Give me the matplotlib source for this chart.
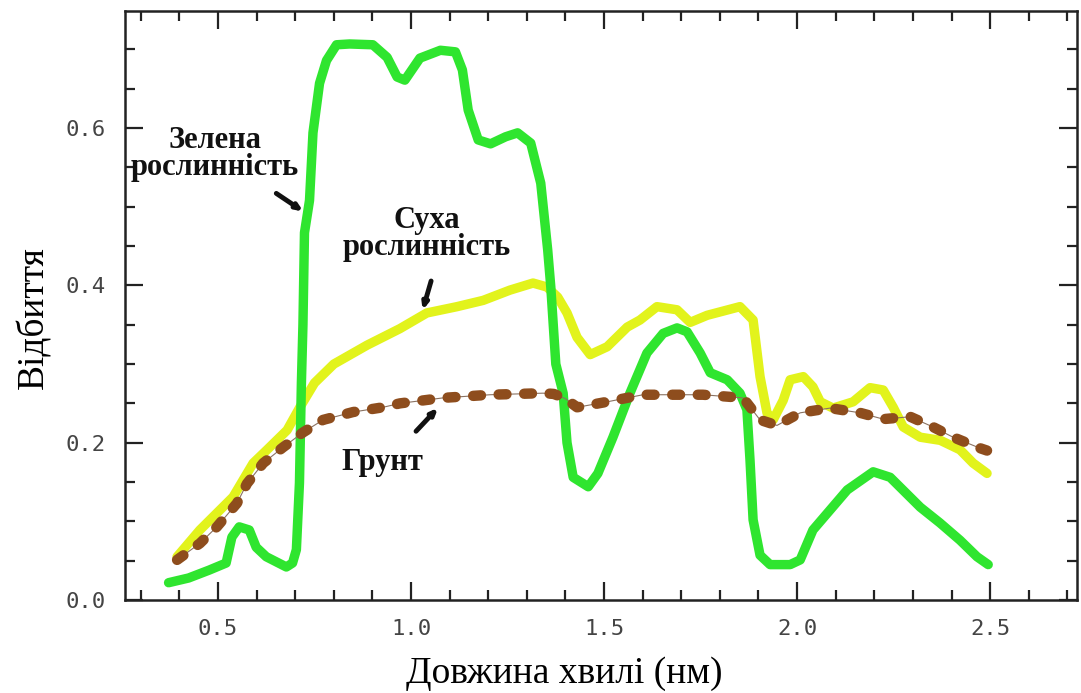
import matplotlib
matplotlib.use("Agg")
import matplotlib.pyplot as plt
from matplotlib.ticker import MultipleLocator, FormatStrFormatter

# wavelength / reflectance
green_x = [0.372, 0.424, 0.477, 0.521, 0.536, 0.555, 0.581, 0.599, 0.625, 0.677,
           0.693, 0.703, 0.711, 0.716, 0.720, 0.724, 0.737, 0.746, 0.763, 0.781,
           0.807, 0.841, 0.901, 0.938, 0.964, 0.984, 1.023, 1.076, 1.115, 1.133,
           1.148, 1.174, 1.206, 1.245, 1.276, 1.310, 1.336, 1.354, 1.362, 1.375,
           1.394, 1.404, 1.420, 1.459, 1.484, 1.523, 1.567, 1.611, 1.653, 1.689,
           1.715, 1.749, 1.775, 1.819, 1.852, 1.870, 1.878, 1.886, 1.904, 1.930,
           1.982, 2.008, 2.041, 2.130, 2.197, 2.241, 2.319, 2.370, 2.422, 2.466,
           2.495]
green_y = [0.022, 0.028, 0.038, 0.047, 0.080, 0.093, 0.089, 0.067, 0.055, 0.042,
           0.047, 0.064, 0.149, 0.276, 0.350, 0.467, 0.508, 0.594, 0.657, 0.686,
           0.706, 0.707, 0.706, 0.690, 0.665, 0.661, 0.689, 0.699, 0.697, 0.674,
           0.623, 0.585, 0.580, 0.589, 0.594, 0.581, 0.530, 0.445, 0.398, 0.300,
           0.263, 0.200, 0.156, 0.144, 0.161, 0.207, 0.263, 0.314, 0.339, 0.346,
           0.341, 0.314, 0.289, 0.280, 0.263, 0.242, 0.178, 0.102, 0.057, 0.045,
           0.045, 0.051, 0.089, 0.140, 0.163, 0.156, 0.118, 0.098, 0.076, 0.055,
           0.045]

dry_x = [0.394, 0.453, 0.539, 0.591, 0.627, 0.679, 0.712, 0.750, 0.800, 0.886,
         0.971, 1.041, 1.119, 1.187, 1.256, 1.316, 1.352, 1.380, 1.404, 1.430,
         1.464, 1.508, 1.560, 1.593, 1.637, 1.689, 1.723, 1.767, 1.852, 1.886,
         1.904, 1.922, 1.938, 1.964, 1.982, 2.016, 2.041, 2.060, 2.093, 2.145,
         2.189, 2.223, 2.249, 2.275, 2.319, 2.371, 2.422, 2.456, 2.492]
dry_y = [0.055, 0.089, 0.131, 0.174, 0.191, 0.216, 0.245, 0.276, 0.300, 0.324,
         0.345, 0.365, 0.373, 0.381, 0.394, 0.403, 0.398, 0.385, 0.365, 0.334,
         0.312, 0.322, 0.347, 0.356, 0.373, 0.369, 0.353, 0.362, 0.373, 0.356,
         0.284, 0.238, 0.229, 0.254, 0.280, 0.284, 0.271, 0.252, 0.244, 0.252,
         0.270, 0.267, 0.245, 0.220, 0.207, 0.203, 0.191, 0.174, 0.161]

soil_x = [0.394, 0.453, 0.497, 0.549, 0.575, 0.617, 0.668, 0.720, 0.772, 0.850,
          0.927, 0.971, 1.083, 1.205, 1.342, 1.370, 1.400, 1.430, 1.508, 1.601,
          1.756, 1.860, 1.904, 1.948, 2.008, 2.085, 2.163, 2.223, 2.293, 2.352,
          2.404, 2.474, 2.492]
soil_y = [0.051, 0.072, 0.093, 0.123, 0.148, 0.174, 0.194, 0.213, 0.229, 0.239,
          0.245, 0.250, 0.257, 0.261, 0.263, 0.262, 0.256, 0.245, 0.252, 0.261,
          0.261, 0.257, 0.229, 0.222, 0.238, 0.244, 0.238, 0.230, 0.233, 0.220,
          0.207, 0.193, 0.190]

fig = plt.figure(figsize=(10.81, 6.93), dpi=100)
ax = fig.add_axes([0.1156, 0.1342, 0.8807, 0.8500])

ax.plot(dry_x, dry_y, color="#e2f31c", lw=6.8, solid_joinstyle="round", solid_capstyle="round", zorder=2)
ax.plot(green_x, green_y, color="#2fe52f", lw=6.8, solid_joinstyle="round", solid_capstyle="round", zorder=3)
# soil: thin line + fat rounded dashes
ax.plot(soil_x, soil_y, color="#8a7262", lw=0.8, zorder=4)
ax.plot(soil_x, soil_y, color="#8e4d1d", lw=7.5, dashes=(0.75, 1.7),
        dash_capstyle="round", zorder=5)

ax.set_xlim(0.259, 2.725)
ax.set_ylim(0, 0.749)

ax.xaxis.set_major_locator(MultipleLocator(0.5))
ax.xaxis.set_minor_locator(MultipleLocator(0.1))
ax.yaxis.set_major_locator(MultipleLocator(0.2))
ax.yaxis.set_minor_locator(MultipleLocator(0.05))
ax.xaxis.set_major_formatter(FormatStrFormatter("%.1f"))
ax.yaxis.set_major_formatter(FormatStrFormatter("%.1f"))

ax.tick_params(which="both", direction="in", top=True, right=True, color="#222", width=1.6)
ax.tick_params(which="major", length=13, labelsize=16, labelcolor="#444", pad=14)
ax.tick_params(which="minor", length=7)
for lbl in ax.get_xticklabels() + ax.get_yticklabels():
    lbl.set_family("DejaVu Sans Mono")

for s in ax.spines.values():
    s.set_linewidth(1.8)
    s.set_color("#222")

ax.set_xlabel("Довжина хвилі (нм)", family="Liberation Serif", fontsize=27)
ax.set_ylabel("Відбиття", family="Liberation Serif", fontsize=27)
ax.xaxis.set_label_coords(0.461, -0.095)
ax.yaxis.set_label_coords(-0.077, 0.48)

note = dict(family="Liberation Serif", fontsize=22, fontweight="bold", ha="center",
            va="center", linespacing=0.9, color="#111")
ax.text(0.492, 0.567, "Зелена\nрослинність", **note)
ax.text(1.041, 0.465, "Суха\nрослинність", **note)
ax.text(0.925, 0.175, "Грунт", **note)

arrow = dict(arrowstyle="-|>,head_length=0.35,head_width=0.15", color="#111", lw=3.5)
ax.annotate("", xy=(0.727, 0.492), xytext=(0.645, 0.519), arrowprops=arrow)
ax.annotate("", xy=(1.028, 0.365), xytext=(1.054, 0.409), arrowprops=arrow)
ax.annotate("", xy=(1.075, 0.247), xytext=(1.008, 0.212), arrowprops=arrow)

fig.savefig("out.png", dpi=100)
